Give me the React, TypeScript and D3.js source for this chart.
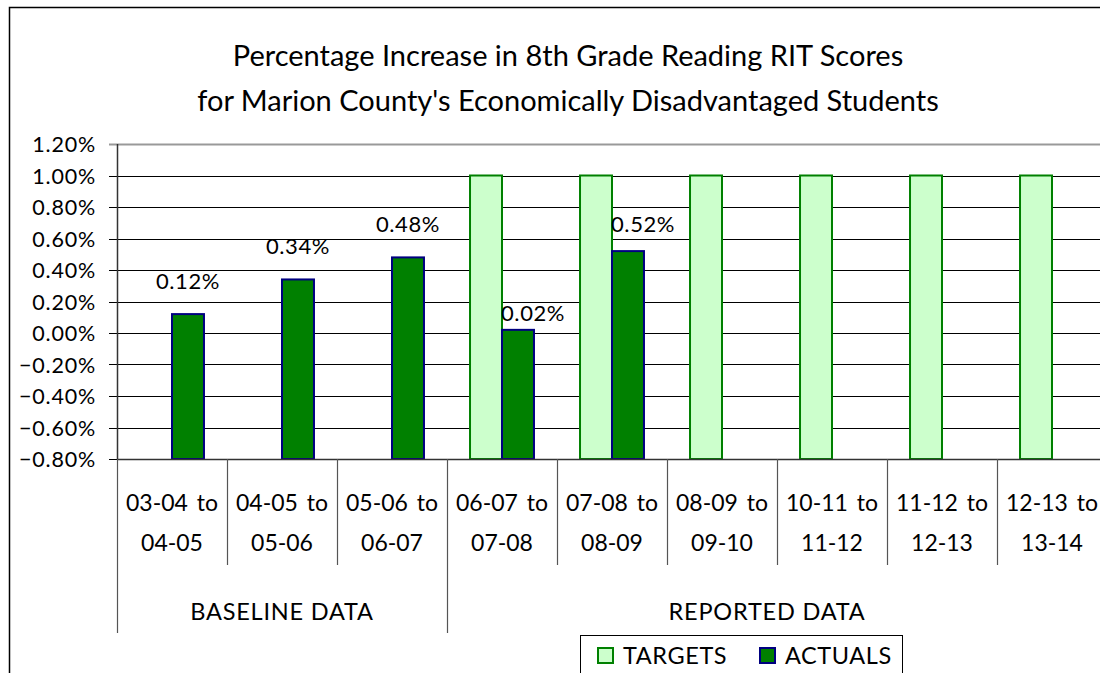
import React from 'react';
import * as d3 from 'd3';

const categories = ['03-04 to|04-05', '04-05 to|05-06', '05-06 to|06-07', '06-07 to|07-08', '07-08 to|08-09', '08-09 to|09-10', '10-11 to|11-12', '11-12 to|12-13', '12-13 to|13-14'];
const groups = [
  { name: 'BASELINE DATA', start: 0, end: 3 },
  { name: 'REPORTED DATA', start: 3, end: 9 },
];
const targets: (number | null)[] = [null, null, null, 1.0, 1.0, 1.0, 1.0, 1.0, 1.0];
const actuals: (number | null)[] = [0.12, 0.34, 0.48, 0.02, 0.52, null, null, null, null];
const yTicks = [-0.8, -0.6, -0.4, -0.2, 0, 0.2, 0.4, 0.6, 0.8, 1.0, 1.2];
const seriesNames = ['TARGETS', 'ACTUALS'];
const titleLines = ['Percentage Increase in 8th Grade Reading RIT Scores', "for Marion County's Economically Disadvantaged Students"];

const W = 1100, H = 673;
const FONT = 'Lato, "Open Sans", sans-serif';

export default function App() {
  const left = 117, right = 1107, top = 144, bottom = 459;
  const x = d3.scaleBand<number>().domain(d3.range(categories.length)).range([left, right]).paddingInner(0).paddingOuter(0);
  const xs = d3.scaleBand<string>().domain(seriesNames).range([0, x.bandwidth()]).paddingInner(0).paddingOuter(0.72);
  const y = d3.scaleLinear().domain([-0.8, 1.2]).range([bottom, top]);
  const fmt = (v: number) => d3.format('.2f')(v) + '%';
  const colors = {
    TARGETS: { fill: '#CCFFCC', stroke: '#008000' },
    ACTUALS: { fill: '#008000', stroke: '#000080' },
  } as Record<string, { fill: string; stroke: string }>;

  return (
    <svg width={W} height={H} style={{ position: 'absolute', left: 0, top: 0, background: '#fff' }} fontFamily={FONT}>
      <rect x={0} y={0} width={W} height={H} fill="#fff" />
      {/* outer frame */}
      <path d={`M9.5,${H + 2} V7.5 H${W + 2}`} fill="none" stroke="#000" strokeWidth={1.5} />
      {/* title */}
      {titleLines.map((t, i) => (
        <text key={i} x={568} y={66 + i * 45} textAnchor="middle" fontSize={29} fill="#000">{t}</text>
      ))}
      {/* gridlines */}
      {yTicks.map((t) => (
        <line key={t} x1={left - 8} x2={right} y1={Math.round(y(t)) + 0.5} y2={Math.round(y(t)) + 0.5}
          stroke={t === 1.2 ? '#999' : '#000'} strokeWidth={t === 1.2 ? 2 : 1} />
      ))}
      {/* y axis */}
      <line x1={left + 0.5} x2={left + 0.5} y1={top} y2={bottom} stroke="#333" strokeWidth={1.5} />
      {yTicks.map((t) => (
        <text key={'l' + t} x={96} y={y(t) + 8} textAnchor="end" fontSize={21.5} letterSpacing={0.8} fill="#000">{fmt(t)}</text>
      ))}
      {/* bars */}
      {categories.map((_, i) => {
        const bx = x(i)!;
        return (
          <g key={'b' + i}>
            {targets[i] != null && (
              <rect x={bx + xs('TARGETS')!} y={y(targets[i]!)} width={xs.bandwidth()} height={y(-0.8) - y(targets[i]!)}
                fill={colors.TARGETS.fill} stroke={colors.TARGETS.stroke} strokeWidth={2} />
            )}
            {actuals[i] != null && (
              <rect x={bx + xs('ACTUALS')!} y={y(actuals[i]!)} width={xs.bandwidth()} height={y(-0.8) - y(actuals[i]!)}
                fill={colors.ACTUALS.fill} stroke={colors.ACTUALS.stroke} strokeWidth={2} />
            )}
          </g>
        );
      })}
      {/* bottom axis line */}
      <line x1={left} x2={right} y1={bottom + 0.5} y2={bottom + 0.5} stroke="#333" strokeWidth={1.5} />
      {/* data labels */}
      {categories.map((_, i) => {
        const v = actuals[i];
        if (v == null) return null;
        const bx = x(i)! + xs('ACTUALS')!;
        const hasTarget = targets[i] != null;
        const lift = hasTarget ? (v < 0.2 ? 9 : 19) : 25;
        return (
          <text key={'d' + i} x={hasTarget ? bx - 1 : bx + xs.bandwidth() / 2} y={y(v) - lift}
            textAnchor={hasTarget ? 'start' : 'middle'} fontSize={22} letterSpacing={0.6} fill="#000">{fmt(v)}</text>
        );
      })}
      {/* category ticks & labels */}
      {d3.range(categories.length + 1).map((i) => {
        const xx = i < categories.length ? x(i)! : right;
        const isGroup = groups.some((g) => g.start === i || g.end === i);
        return <line key={'ct' + i} x1={xx + 0.5} x2={xx + 0.5} y1={bottom} y2={isGroup ? 633 : 565} stroke="#555" strokeWidth={1.2} />;
      })}
      {categories.map((c, i) => {
        const cx = x(i)! + x.bandwidth() / 2;
        const [a, b] = c.split('|');
        return (
          <g key={'cl' + i}>
            <text x={cx} y={511} textAnchor="middle" fontSize={23} fill="#000" style={{ wordSpacing: '3px' }}>{a}</text>
            <text x={cx} y={551} textAnchor="middle" fontSize={23} fill="#000">{b}</text>
          </g>
        );
      })}
      {groups.map((g) => {
        const x0 = x(g.start)!;
        const x1 = Math.min(g.end < categories.length ? x(g.end)! : right, W - 13);
        return <text key={g.name} x={(x0 + x1) / 2} y={620} textAnchor="middle" fontSize={23.5} letterSpacing={0.8} fill="#000">{g.name}</text>;
      })}
      {/* legend */}
      <rect x={580.5} y={635.5} width={322} height={50} fill="#fff" stroke="#000" strokeWidth={1} />
      {seriesNames.map((s, i) => {
        const lx = i === 0 ? 597 : 759;
        return (
          <g key={s}>
            <rect x={lx + 1} y={648} width={15} height={15} fill={colors[s].fill} stroke={colors[s].stroke} strokeWidth={2} />
            <text x={lx + 26} y={664} fontSize={23.5} letterSpacing={0.6} fill="#000">{s}</text>
          </g>
        );
      })}
    </svg>
  );
}
